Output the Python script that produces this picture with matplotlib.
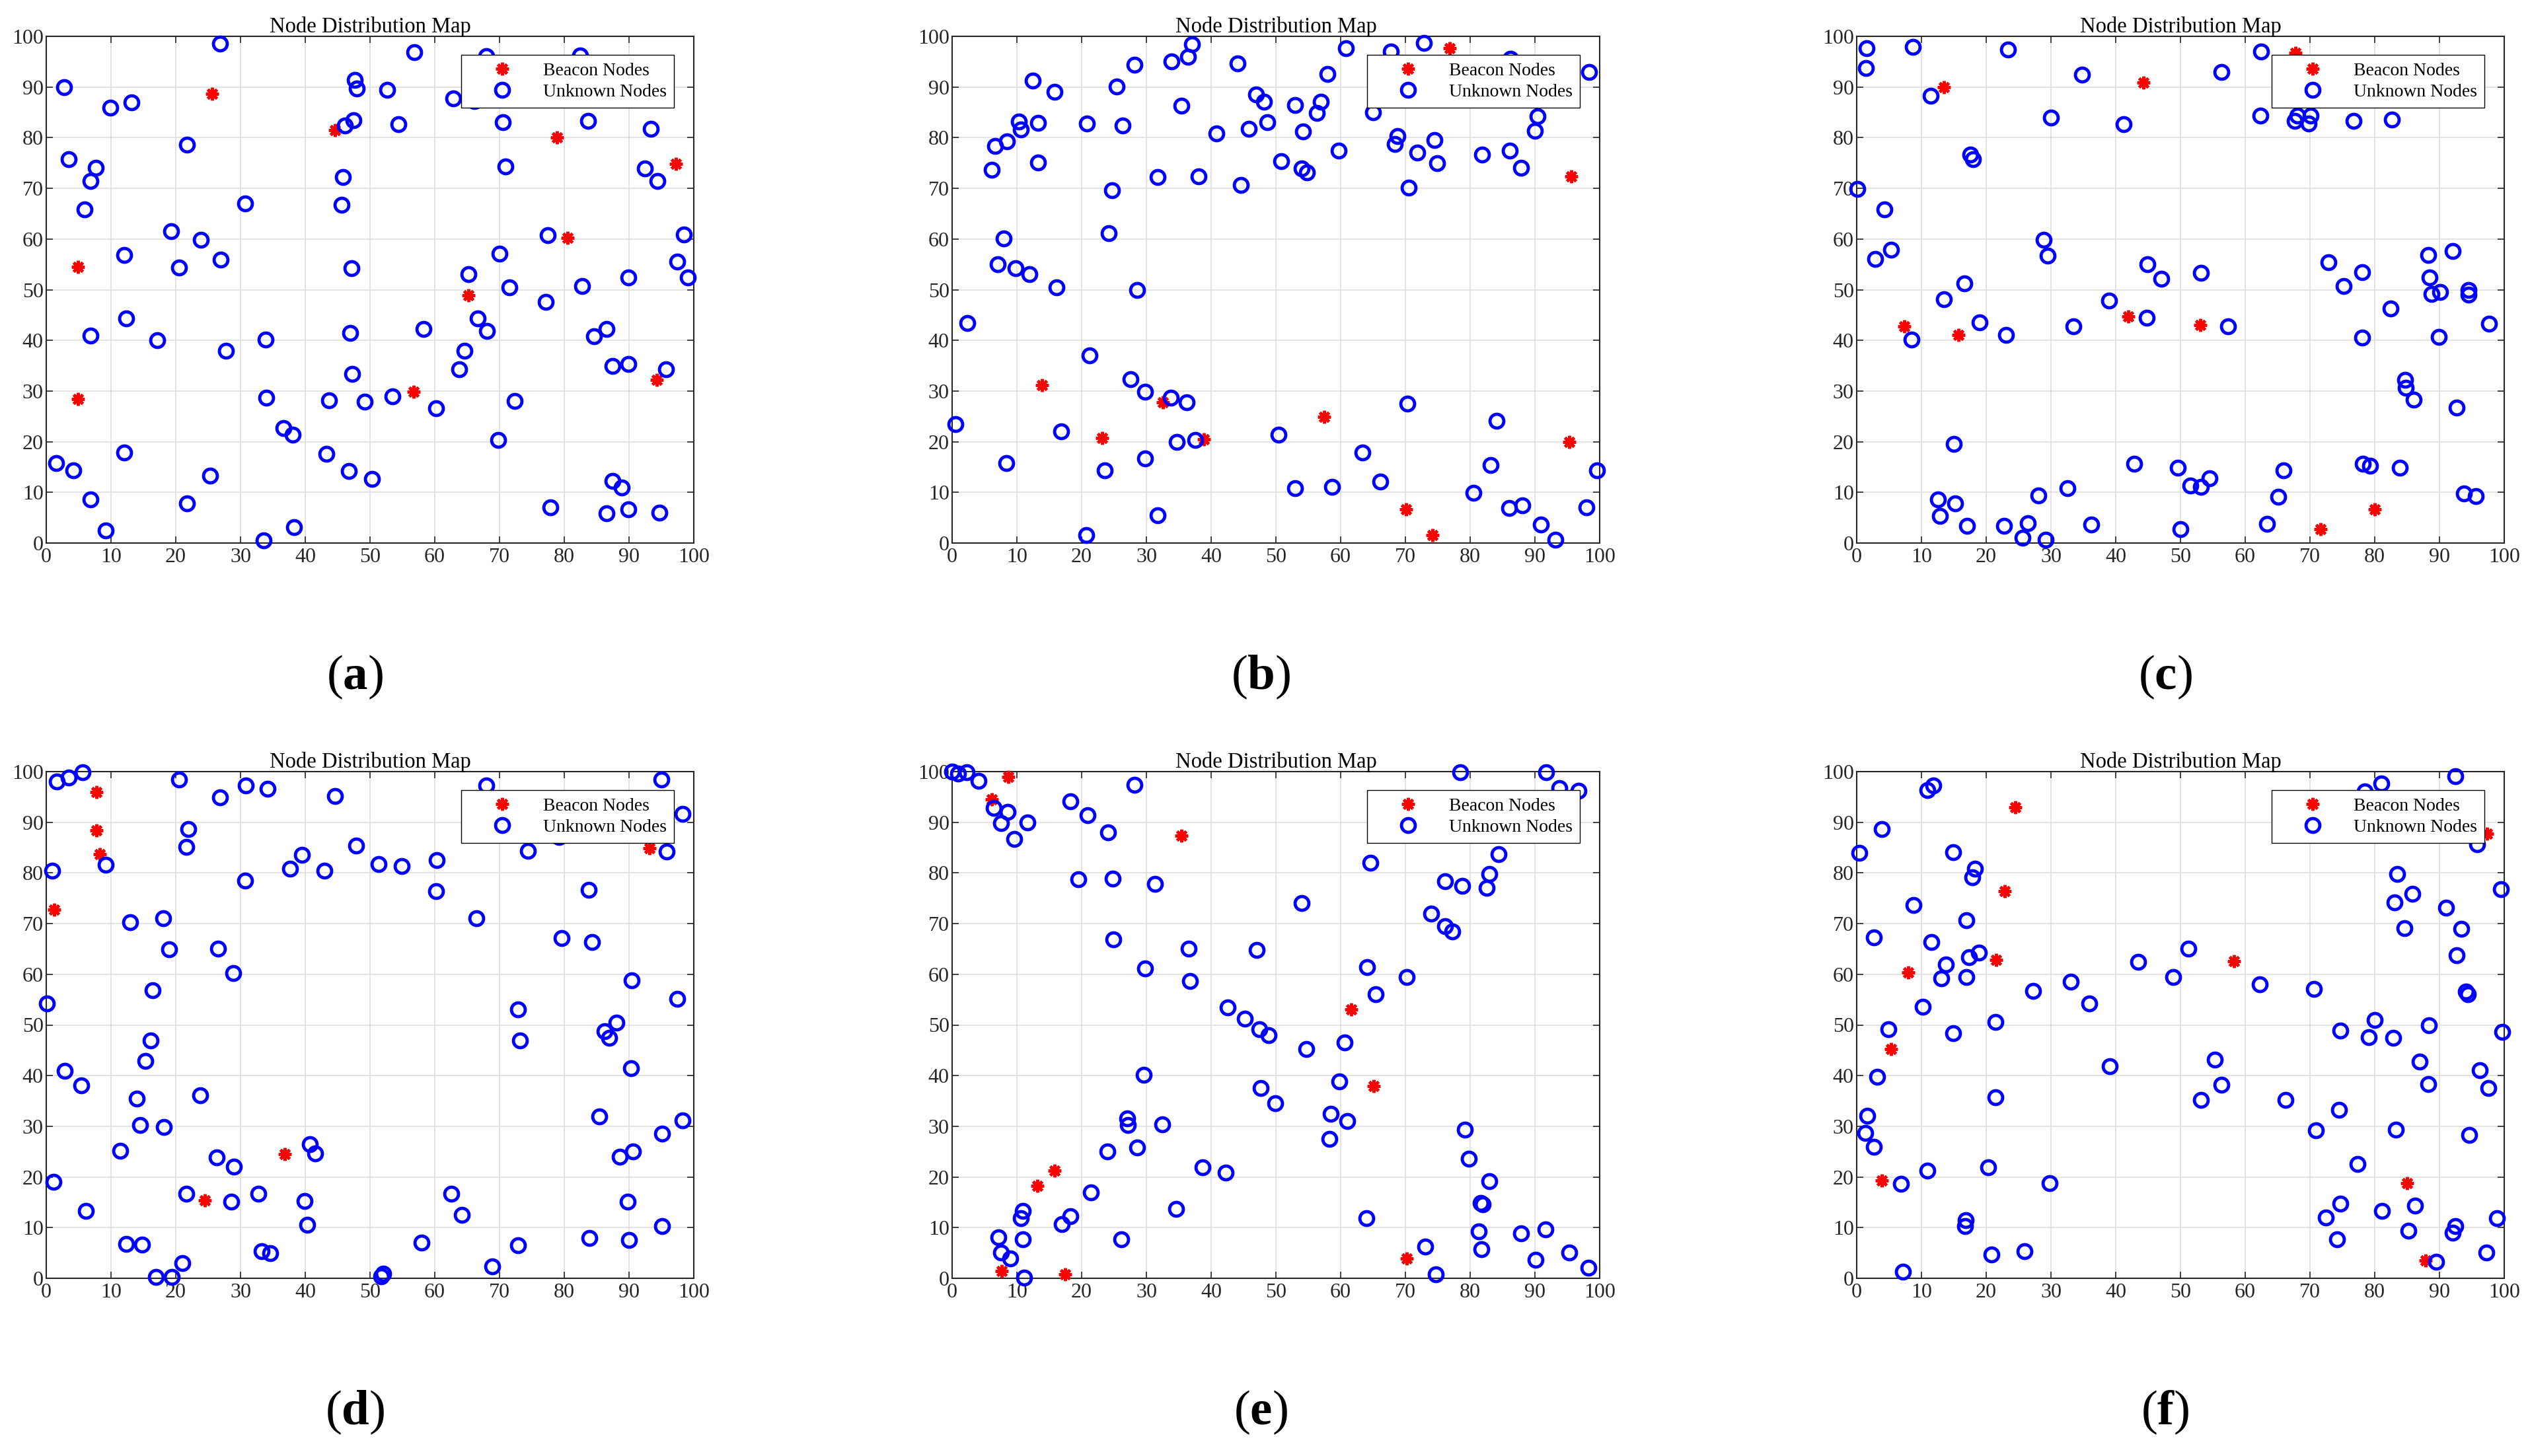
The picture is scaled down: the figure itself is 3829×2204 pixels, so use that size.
import matplotlib.pyplot as plt

plt.rcParams['font.family'] = ['Liberation Serif', 'DejaVu Serif']
plt.rcParams['mathtext.fontset'] = 'custom'
plt.rcParams['mathtext.rm'] = 'Liberation Serif'
plt.rcParams['mathtext.bf'] = 'Liberation Serif:bold'

# ---- panel (a) ----
a_beacon_x = [25.6, 44.6, 4.9, 4.9, 56.7, 65.2, 78.9, 80.5, 97.2, 94.3]
a_beacon_y = [88.6, 81.5, 54.5, 28.4, 29.9, 48.9, 80.0, 60.2, 74.8, 32.2]
a_unknown_x = [2.8, 9.9, 13.2, 26.8, 56.8, 47.7, 48.0, 52.7, 62.9, 66.1, 68.0, 82.4, 70.5, 83.7,
               93.4, 54.4, 47.4, 46.1, 21.7, 3.5, 7.7, 6.8, 70.9, 92.4, 94.4, 45.8, 45.6, 30.7,
               5.9, 19.3, 23.9, 77.5, 98.5, 12.0, 26.9, 20.5, 47.1, 70.0, 97.5, 65.2, 89.9, 99.1,
               71.5, 82.8, 77.1, 12.3, 66.6, 58.3, 68.1, 46.9, 86.5, 84.6, 6.8, 17.1, 33.9, 27.8,
               64.6, 63.8, 47.2, 87.4, 89.9, 95.7, 34.0, 43.7, 49.2, 53.5, 60.2, 72.3, 36.6, 38.1,
               69.8, 43.3, 12.0, 1.5, 4.2, 25.3, 46.7, 50.3, 6.8, 21.7, 9.2, 33.6, 38.3, 77.9,
               87.4, 88.9, 86.5, 89.9, 94.7]
a_unknown_y = [89.9, 85.9, 87.0, 98.6, 96.9, 91.4, 89.7, 89.4, 87.7, 87.2, 96.1, 96.2, 83.1, 83.3,
               81.7, 82.7, 83.5, 82.4, 78.6, 75.8, 74.1, 71.4, 74.3, 73.9, 71.4, 72.2, 66.8, 67.0,
               65.8, 61.6, 59.8, 60.8, 60.9, 56.9, 55.9, 54.4, 54.3, 57.1, 55.6, 53.1, 52.4, 52.4,
               50.5, 50.7, 47.6, 44.3, 44.3, 42.2, 41.8, 41.5, 42.2, 40.8, 41.0, 40.0, 40.2, 38.0,
               38.0, 34.3, 33.4, 34.9, 35.3, 34.3, 28.7, 28.1, 27.9, 29.0, 26.6, 28.0, 22.7, 21.4,
               20.4, 17.6, 17.8, 15.8, 14.3, 13.3, 14.2, 12.6, 8.6, 7.8, 2.5, 0.5, 3.1, 7.0,
               12.3, 11.0, 5.9, 6.7, 6.0]

# ---- panel (b) ----
b_beacon_x = [13.9, 23.2, 32.6, 38.9, 57.4, 70.1, 74.2, 76.8, 95.6, 95.3]
b_beacon_y = [31.1, 20.7, 27.8, 20.5, 24.9, 6.7, 1.5, 97.7, 72.4, 20.0]
b_unknown_x = [0.5, 2.3, 6.1, 6.6, 8.5, 10.3, 10.6, 12.5, 13.3, 13.3, 15.8, 8.0, 7.0, 9.8, 11.9,
               16.1, 21.2, 16.8, 8.4, 20.7, 20.8, 25.4, 26.3, 28.2, 24.7, 24.2, 28.6, 27.6, 29.8,
               33.8, 36.2, 34.7, 37.5, 29.8, 23.6, 31.7, 33.9, 36.4, 37.0, 35.4, 31.7, 38.1, 40.8,
               44.1, 44.6, 45.8, 46.9, 48.2, 48.7, 50.8, 53.0, 54.2, 54.0, 54.8, 56.9, 56.3, 58.0,
               59.7, 60.8, 65.0, 67.8, 68.8, 68.4, 71.8, 72.9, 74.5, 74.9, 70.5, 81.8, 86.1, 87.9,
               90.4, 90.0, 98.4, 86.2, 50.4, 53.0, 58.7, 63.4, 66.1, 70.3, 80.5, 83.2, 84.1, 86.0,
               88.1, 90.9, 93.2, 98.0, 99.6]
b_unknown_y = [23.5, 43.4, 73.7, 78.3, 79.3, 83.2, 81.6, 91.2, 82.9, 75.1, 89.0, 60.1, 55.0, 54.3,
               53.0, 50.4, 37.0, 22.0, 15.8, 1.5, 82.8, 90.1, 82.4, 94.4, 69.6, 61.1, 50.0, 32.3,
               29.9, 28.7, 27.8, 19.9, 20.4, 16.7, 14.3, 5.5, 95.1, 96.0, 98.5, 86.3, 72.2, 72.3,
               80.8, 94.7, 70.6, 81.7, 88.5, 87.1, 83.1, 75.3, 86.5, 81.2, 73.9, 73.2, 87.1, 84.9,
               92.6, 77.5, 97.6, 85.0, 97.0, 80.3, 78.8, 77.0, 98.7, 79.5, 75.0, 70.2, 76.7, 77.5,
               74.1, 84.2, 81.4, 92.9, 95.6, 21.4, 10.8, 11.1, 17.9, 12.1, 27.5, 9.9, 15.4, 24.1,
               6.9, 7.4, 3.6, 0.7, 7.1, 14.4]

# ---- panel (c) ----
c_beacon_x = [13.5, 44.3, 67.8, 7.3, 15.7, 41.9, 53.1, 71.6, 80.0]
c_beacon_y = [89.9, 90.9, 96.8, 42.7, 41.1, 44.7, 43.0, 2.8, 6.7]
c_unknown_x = [1.5, 1.4, 8.7, 11.4, 23.4, 34.8, 30.0, 41.2, 17.6, 18.0, 0.1, 4.3, 2.9, 5.3, 28.9,
               29.5, 16.6, 13.5, 19.0, 23.1, 8.5, 33.5, 39.0, 44.9, 47.0, 44.8, 53.2, 57.3, 56.3,
               62.5, 62.3, 67.7, 68.1, 69.8, 70.1, 76.7, 82.7, 72.9, 75.2, 78.1, 78.1, 82.5, 88.3,
               88.5, 88.8, 90.1, 92.0, 94.5, 94.5, 89.9, 97.7, 84.7, 84.8, 86.0, 92.7, 15.0, 12.6,
               12.9, 15.2, 17.0, 22.8, 26.4, 25.6, 29.2, 28.1, 32.6, 36.2, 42.9, 49.6, 51.5, 53.2,
               54.5, 50.0, 63.4, 65.1, 65.9, 78.2, 79.3, 83.9, 93.8, 95.6]
c_unknown_y = [97.6, 93.7, 97.9, 88.3, 97.4, 92.5, 84.0, 82.6, 76.6, 75.8, 69.9, 65.8, 56.1, 57.9,
               59.9, 56.7, 51.2, 48.1, 43.6, 41.1, 40.1, 42.7, 47.8, 55.0, 52.2, 44.4, 53.3, 42.8,
               93.0, 97.0, 84.3, 83.3, 84.3, 82.8, 84.4, 83.3, 83.6, 55.4, 50.7, 53.5, 40.6, 46.3,
               56.8, 52.4, 49.2, 49.5, 57.6, 50.0, 49.0, 40.7, 43.3, 32.2, 30.6, 28.3, 26.7, 19.5,
               8.6, 5.4, 7.8, 3.4, 3.4, 3.9, 1.1, 0.6, 9.4, 10.8, 3.6, 15.7, 14.8, 11.4, 11.1,
               12.8, 2.7, 3.8, 9.1, 14.4, 15.7, 15.3, 14.8, 9.8, 9.3]

# ---- panel (d) ----
d_beacon_x = [7.8, 7.8, 8.3, 1.2, 36.8, 24.5, 93.2]
d_beacon_y = [95.9, 88.4, 83.7, 72.8, 24.5, 15.4, 84.9]
d_unknown_x = [5.6, 3.5, 1.6, 20.5, 30.8, 34.2, 26.8, 44.6, 68.0, 95.0, 98.3, 21.9, 21.6, 9.2, 0.9,
               30.7, 37.7, 39.5, 43.0, 47.9, 51.3, 54.9, 60.3, 60.2, 66.4, 74.4, 79.2, 95.8, 83.8,
               79.6, 84.3, 13.0, 18.1, 19.0, 26.5, 28.9, 16.4, 16.1, 15.3, 0.1, 2.9, 5.4, 14.0,
               14.5, 18.2, 23.8, 11.4, 1.1, 6.1, 26.3, 29.0, 21.6, 28.6, 32.8, 40.7, 41.5, 39.9,
               40.3, 12.3, 14.8, 16.9, 19.4, 21.0, 33.3, 34.6, 51.7, 52.0, 58.0, 62.6, 64.2, 68.9,
               72.9, 72.9, 73.2, 86.2, 86.9, 88.1, 90.4, 97.4, 90.3, 85.4, 95.1, 98.3, 88.6, 90.6,
               89.8, 83.9, 90.0, 95.1]
d_unknown_y = [99.9, 98.8, 98.1, 98.5, 97.2, 96.6, 94.9, 95.2, 97.2, 98.5, 91.7, 88.7, 85.1, 81.6,
               80.4, 78.5, 80.8, 83.6, 80.4, 85.4, 81.8, 81.3, 82.5, 76.4, 71.1, 84.3, 87.1, 84.2,
               76.6, 67.2, 66.3, 70.3, 71.1, 64.9, 65.0, 60.2, 56.9, 46.9, 42.9, 54.2, 41.0, 38.1,
               35.4, 30.2, 29.8, 36.1, 25.1, 19.1, 13.3, 23.9, 22.0, 16.7, 15.1, 16.7, 26.5, 24.6,
               15.3, 10.5, 6.8, 6.6, 0.2, 0.2, 3.0, 5.3, 4.9, 0.4, 0.9, 7.0, 16.7, 12.5, 2.3,
               6.5, 53.1, 46.9, 48.8, 47.5, 50.4, 58.8, 55.2, 41.5, 32.0, 28.5, 31.1, 24.0, 25.0,
               15.1, 8.0, 7.5, 10.3]

# ---- panel (e) ----
e_beacon_x = [8.7, 6.1, 35.4, 61.6, 65.1, 15.8, 13.2, 7.7, 17.4, 70.2]
e_beacon_y = [99.0, 94.5, 87.4, 53.1, 38.0, 21.3, 18.3, 1.4, 0.8, 3.9]
e_unknown_x = [0.0, 0.9, 2.2, 4.1, 28.2, 6.4, 8.6, 7.6, 11.6, 9.6, 18.3, 20.9, 24.1, 19.5, 24.8,
               31.3, 24.9, 36.5, 29.8, 36.7, 47.0, 54.0, 42.5, 45.2, 47.4, 48.9, 54.7, 29.6, 47.7,
               49.9, 27.0, 27.1, 32.4, 24.0, 28.6, 38.7, 42.2, 21.4, 18.3, 16.9, 10.9, 10.6, 10.9,
               7.1, 7.6, 9.0, 11.1, 26.1, 34.6, 64.6, 64.1, 70.2, 65.4, 60.6, 59.8, 58.5, 61.0,
               58.3, 64.0, 74.0, 76.1, 77.2, 76.1, 78.8, 83.0, 82.5, 84.4, 78.5, 91.7, 93.8, 96.7,
               79.2, 79.8, 83.0, 81.6, 81.9, 81.3, 81.7, 73.1, 74.7, 87.9, 91.6, 90.1, 95.3, 98.3]
e_unknown_y = [100.0, 99.6, 99.9, 98.2, 97.4, 92.8, 92.0, 89.8, 89.9, 86.7, 94.1, 91.4, 88.0, 78.7,
               78.9, 77.8, 66.9, 65.1, 61.1, 58.7, 64.8, 74.1, 53.5, 51.2, 49.2, 48.0, 45.2, 40.1,
               37.5, 34.6, 31.5, 30.3, 30.4, 25.0, 25.8, 21.9, 20.9, 17.0, 12.2, 10.7, 13.3, 11.9,
               7.7, 8.1, 5.1, 3.9, 0.1, 7.7, 13.7, 82.0, 61.4, 59.5, 56.0, 46.6, 38.8, 32.4, 31.0,
               27.5, 11.8, 72.0, 69.5, 68.5, 78.3, 77.5, 79.8, 77.0, 83.7, 99.9, 99.9, 96.8, 96.2,
               29.4, 23.6, 19.2, 14.9, 14.6, 9.3, 5.8, 6.2, 0.8, 8.9, 9.6, 3.6, 5.1, 2.1]

# ---- panel (f) ----
f_beacon_x = [24.5, 22.9, 21.5, 8.0, 5.3, 3.9, 58.3, 97.3, 85.0, 87.9]
f_beacon_y = [93.0, 76.4, 62.8, 60.3, 45.3, 19.3, 62.6, 87.8, 18.8, 3.5]
f_unknown_x = [0.4, 3.9, 10.9, 11.8, 8.8, 2.7, 11.5, 14.9, 18.3, 17.9, 16.9, 17.3, 18.9, 13.8, 13.1,
               16.9, 10.2, 4.9, 21.4, 14.9, 3.2, 1.6, 1.3, 2.7, 21.4, 10.9, 6.8, 7.1, 16.8, 16.7,
               20.3, 20.8, 25.9, 29.8, 27.2, 33.1, 35.9, 39.1, 43.5, 48.9, 51.2, 55.3, 56.3, 53.2,
               62.2, 66.2, 70.6, 70.9, 74.5, 74.7, 77.3, 80.0, 79.1, 82.9, 88.4, 86.9, 88.3, 96.2,
               97.6, 99.7, 94.1, 94.4, 92.7, 93.4, 91.0, 84.6, 83.1, 85.8, 83.5, 99.5, 95.8, 81.0,
               78.5, 92.4, 83.3, 94.6, 74.7, 72.5, 74.2, 81.1, 86.2, 85.2, 92.0, 92.4, 89.5, 97.2,
               98.9]
f_unknown_y = [83.9, 88.6, 96.3, 97.3, 73.7, 67.3, 66.3, 84.1, 80.8, 79.2, 70.7, 63.3, 64.3, 61.9,
               59.2, 59.4, 53.6, 49.1, 50.6, 48.4, 39.8, 32.1, 28.7, 26.0, 35.7, 21.3, 18.6, 1.3,
               11.5, 10.3, 21.9, 4.7, 5.3, 18.8, 56.7, 58.5, 54.2, 41.9, 62.4, 59.5, 65.0, 43.1,
               38.2, 35.2, 58.0, 35.2, 57.1, 29.2, 33.2, 48.9, 22.6, 51.0, 47.6, 47.4, 50.0, 42.7,
               38.3, 41.1, 37.6, 48.6, 56.6, 56.0, 63.8, 69.0, 73.1, 69.1, 74.2, 75.9, 79.8, 76.8,
               85.7, 97.7, 96.1, 99.1, 29.4, 28.3, 14.7, 12.0, 7.7, 13.3, 14.3, 9.4, 9.0, 10.3,
               3.2, 5.1, 11.9]

panel_letters = ['a', 'b', 'c', 'd', 'e', 'f']
beacon_x = [a_beacon_x, b_beacon_x, c_beacon_x, d_beacon_x, e_beacon_x, f_beacon_x]
beacon_y = [a_beacon_y, b_beacon_y, c_beacon_y, d_beacon_y, e_beacon_y, f_beacon_y]
unknown_x = [a_unknown_x, b_unknown_x, c_unknown_x, d_unknown_x, e_unknown_x, f_unknown_x]
unknown_y = [a_unknown_y, b_unknown_y, c_unknown_y, d_unknown_y, e_unknown_y, f_unknown_y]

W, H = 3830, 2204
col_left = [70, 1441, 2810]      # pixels
row_top = [55, 1168]
ax_w, ax_h = 980, 767
axis_color = '#262626'


def draw_panel(ax, bx, by, ux, uy):
    """One node distribution map."""
    ax.plot(bx, by, linestyle='none', marker=(8, 2, 0), markersize=14, markeredgewidth=3.2,
            color='red', label='Beacon Nodes', clip_on=False, zorder=3)
    ax.plot(ux, uy, linestyle='none', marker='o', markersize=15, markeredgewidth=3.5,
            markerfacecolor='none', markeredgecolor='blue', label='Unknown Nodes',
            clip_on=False, zorder=3)
    ax.set_xlim(0, 100)
    ax.set_ylim(0, 100)
    ax.set_xticks(range(0, 101, 10))
    ax.set_yticks(range(0, 101, 10))
    ax.grid(True, color='#dedede', linewidth=1.2)
    ax.set_axisbelow(True)
    ax.tick_params(direction='in', length=7, width=1.2, top=True, right=True,
                   labelsize=23, colors=axis_color)
    ax.tick_params(axis='x', pad=5)
    ax.tick_params(axis='y', pad=3)
    for sp in ax.spines.values():
        sp.set_linewidth(1.5)
        sp.set_color(axis_color)
    ax.set_title('Node Distribution Map', fontsize=23.5, pad=4)
    leg = ax.legend(loc='upper right', bbox_to_anchor=(0.969, 0.9635), borderaxespad=0,
                    fontsize=20, handlelength=3.7, handletextpad=0.35, borderpad=0.4,
                    labelspacing=0.25, fancybox=False, framealpha=1, edgecolor='black')
    leg.get_frame().set_linewidth(1.0)
    leg.set_zorder(10)


fig = plt.figure(figsize=(W / 100, H / 100), dpi=100)

for i, letter in enumerate(panel_letters):
    row, col = divmod(i, 3)
    left = col_left[col]
    top = row_top[row]
    ax = fig.add_axes([left / W, 1 - (top + ax_h) / H, ax_w / W, ax_h / H])
    draw_panel(ax, beacon_x[i], beacon_y[i], unknown_x[i], unknown_y[i])
    # panel label under each map
    lx = (left + ax_w / 2 - 23) / W
    ly = 1 - (top + ax_h + 203) / H
    fig.text(lx, ly, '($\\mathbf{' + letter + '}$)', fontsize=54, ha='center', va='center')

fig.savefig('out.png', dpi=100)
